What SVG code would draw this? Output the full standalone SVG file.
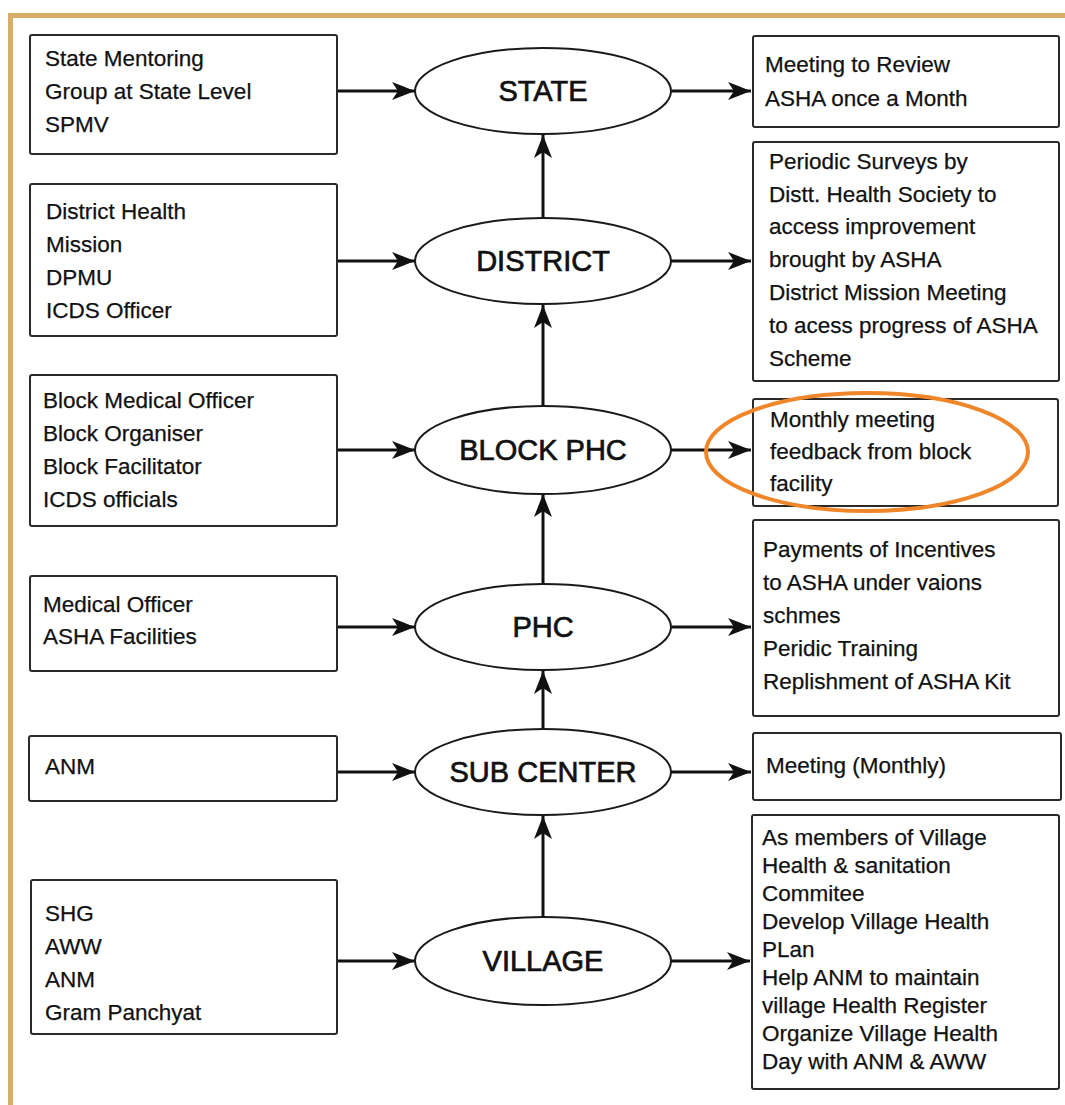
<svg xmlns="http://www.w3.org/2000/svg" width="1065" height="1105" viewBox="0 0 1065 1105">
<defs>
<marker id="ah" markerUnits="userSpaceOnUse" markerWidth="24" markerHeight="20" viewBox="0 0 24 20" refX="23" refY="10" orient="auto">
<path d="M0,1 L23,10 L0,19 L6,10 Z" fill="#111"/>
</marker>
<style>
.box{fill:#fff;stroke:#2a2a2a;stroke-width:2}
.ell{fill:#fff;stroke:#1a1a1a;stroke-width:2}
.t{font-family:"Liberation Sans",Arial,sans-serif;font-size:22.5px;fill:#111;stroke:#111;stroke-width:0.25}
.lab{font-family:"Liberation Sans",Arial,sans-serif;font-size:29px;fill:#111;text-anchor:middle;stroke:#111;stroke-width:0.7}
.c{stroke:#111;stroke-width:3;fill:none;marker-end:url(#ah)}
</style>
</defs>
<rect width="1065" height="1105" fill="#fff"/>
<g id="frame" fill="#D6AE6A">
<rect x="8" y="13" width="1057" height="5"/>
<rect x="8" y="13" width="5" height="1092"/>
</g>

<g id="connectors">
<line class="c" x1="337" y1="91" x2="415" y2="91"/>
<line class="c" x1="337" y1="261" x2="415" y2="261"/>
<line class="c" x1="337" y1="450" x2="415" y2="450"/>
<line class="c" x1="337" y1="627" x2="415" y2="627"/>
<line class="c" x1="337" y1="772" x2="415" y2="772"/>
<line class="c" x1="337" y1="961" x2="415" y2="961"/>
<line class="c" x1="671" y1="91" x2="751" y2="91"/>
<line class="c" x1="671" y1="261" x2="751" y2="261"/>
<line class="c" x1="671" y1="450" x2="751" y2="450"/>
<line class="c" x1="671" y1="627" x2="751" y2="627"/>
<line class="c" x1="671" y1="772" x2="751" y2="772"/>
<line class="c" x1="671" y1="961" x2="750" y2="961"/>
<line class="c" x1="543" y1="217" x2="543" y2="135"/>
<line class="c" x1="543" y1="406" x2="543" y2="305"/>
<line class="c" x1="543" y1="583" x2="543" y2="494"/>
<line class="c" x1="543" y1="728" x2="543" y2="671"/>
<line class="c" x1="543" y1="917" x2="543" y2="816"/>
</g>

<g id="left-state"><rect class="box" x="30" y="35" width="307" height="119" rx="2"/>
<text class="t" x="45" y="66">State Mentoring</text><text class="t" x="45" y="99">Group at State Level</text><text class="t" x="45" y="132">SPMV</text></g>
<g id="left-district"><rect class="box" x="30" y="184" width="307" height="152" rx="2"/>
<text class="t" x="46" y="219">District Health</text><text class="t" x="46" y="252">Mission</text><text class="t" x="46" y="285">DPMU</text><text class="t" x="46" y="318">ICDS Officer</text></g>
<g id="left-block"><rect class="box" x="30" y="375" width="307" height="151" rx="2"/>
<text class="t" x="43" y="408">Block Medical Officer</text><text class="t" x="43" y="441">Block Organiser</text><text class="t" x="43" y="474">Block Facilitator</text><text class="t" x="43" y="507">ICDS officials</text></g>
<g id="left-phc"><rect class="box" x="30" y="576" width="307" height="95" rx="2"/>
<text class="t" x="43" y="612">Medical Officer</text><text class="t" x="43" y="644">ASHA Facilities</text></g>
<g id="left-subcenter"><rect class="box" x="29" y="736" width="308" height="65" rx="2"/>
<text class="t" x="45" y="774">ANM</text></g>
<g id="left-village"><rect class="box" x="31" y="880" width="306" height="154" rx="2"/>
<text class="t" x="45" y="921">SHG</text><text class="t" x="45" y="954">AWW</text><text class="t" x="45" y="987">ANM</text><text class="t" x="45" y="1020">Gram Panchyat</text></g>

<g id="state"><ellipse class="ell" cx="543" cy="91" rx="128" ry="43"/><text class="lab" x="543" y="101">STATE</text></g>
<g id="district"><ellipse class="ell" cx="543" cy="261" rx="128" ry="43"/><text class="lab" x="543" y="271">DISTRICT</text></g>
<g id="block-phc"><ellipse class="ell" cx="543" cy="450" rx="128" ry="44"/><text class="lab" x="543" y="460">BLOCK PHC</text></g>
<g id="phc"><ellipse class="ell" cx="543" cy="627" rx="128" ry="43"/><text class="lab" x="543" y="637">PHC</text></g>
<g id="sub-center"><ellipse class="ell" cx="543" cy="772" rx="128" ry="43"/><text class="lab" x="543" y="782">SUB CENTER</text></g>
<g id="village"><ellipse class="ell" cx="543" cy="961" rx="128" ry="44"/><text class="lab" x="543" y="971">VILLAGE</text></g>

<g id="right-state"><rect class="box" x="753" y="36" width="306" height="91" rx="2"/>
<text class="t" x="765" y="72">Meeting to Review</text><text class="t" x="765" y="106">ASHA once a Month</text></g>
<g id="right-district"><rect class="box" x="753" y="142" width="306" height="239" rx="2"/>
<text class="t" x="769" y="169">Periodic Surveys by</text><text class="t" x="769" y="202">Distt. Health Society to</text><text class="t" x="769" y="234">access improvement</text><text class="t" x="769" y="267">brought by ASHA</text><text class="t" x="769" y="300">District Mission Meeting</text><text class="t" x="769" y="333">to acess progress of ASHA</text><text class="t" x="769" y="366">Scheme</text></g>
<g id="right-block"><rect class="box" x="753" y="399" width="305" height="107" rx="2"/>
<text class="t" x="770" y="427">Monthly meeting</text><text class="t" x="770" y="459">feedback from block</text><text class="t" x="770" y="491">facility</text></g>
<g id="right-phc"><rect class="box" x="753" y="520" width="306" height="196" rx="2"/>
<text class="t" x="763" y="557">Payments of Incentives</text><text class="t" x="763" y="590">to ASHA under vaions</text><text class="t" x="763" y="623">schmes</text><text class="t" x="763" y="656">Peridic Training</text><text class="t" x="763" y="689">Replishment of ASHA Kit</text></g>
<g id="right-subcenter"><rect class="box" x="753" y="733" width="308" height="67" rx="2"/>
<text class="t" x="766" y="773">Meeting (Monthly)</text></g>
<g id="right-village"><rect class="box" x="752" y="815" width="307" height="274" rx="2"/>
<text class="t" x="762" y="845">As members of Village</text><text class="t" x="762" y="873">Health &amp; sanitation</text><text class="t" x="762" y="901">Commitee</text><text class="t" x="762" y="929">Develop Village Health</text><text class="t" x="762" y="957">PLan</text><text class="t" x="762" y="985">Help ANM to maintain</text><text class="t" x="762" y="1013">village Health Register</text><text class="t" x="762" y="1041">Organize Village Health</text><text class="t" x="762" y="1069">Day with ANM &amp; AWW</text></g>

<g id="highlight"><ellipse cx="867" cy="452" rx="161" ry="59" fill="none" stroke="#F0862A" stroke-width="4"/></g>
</svg>
